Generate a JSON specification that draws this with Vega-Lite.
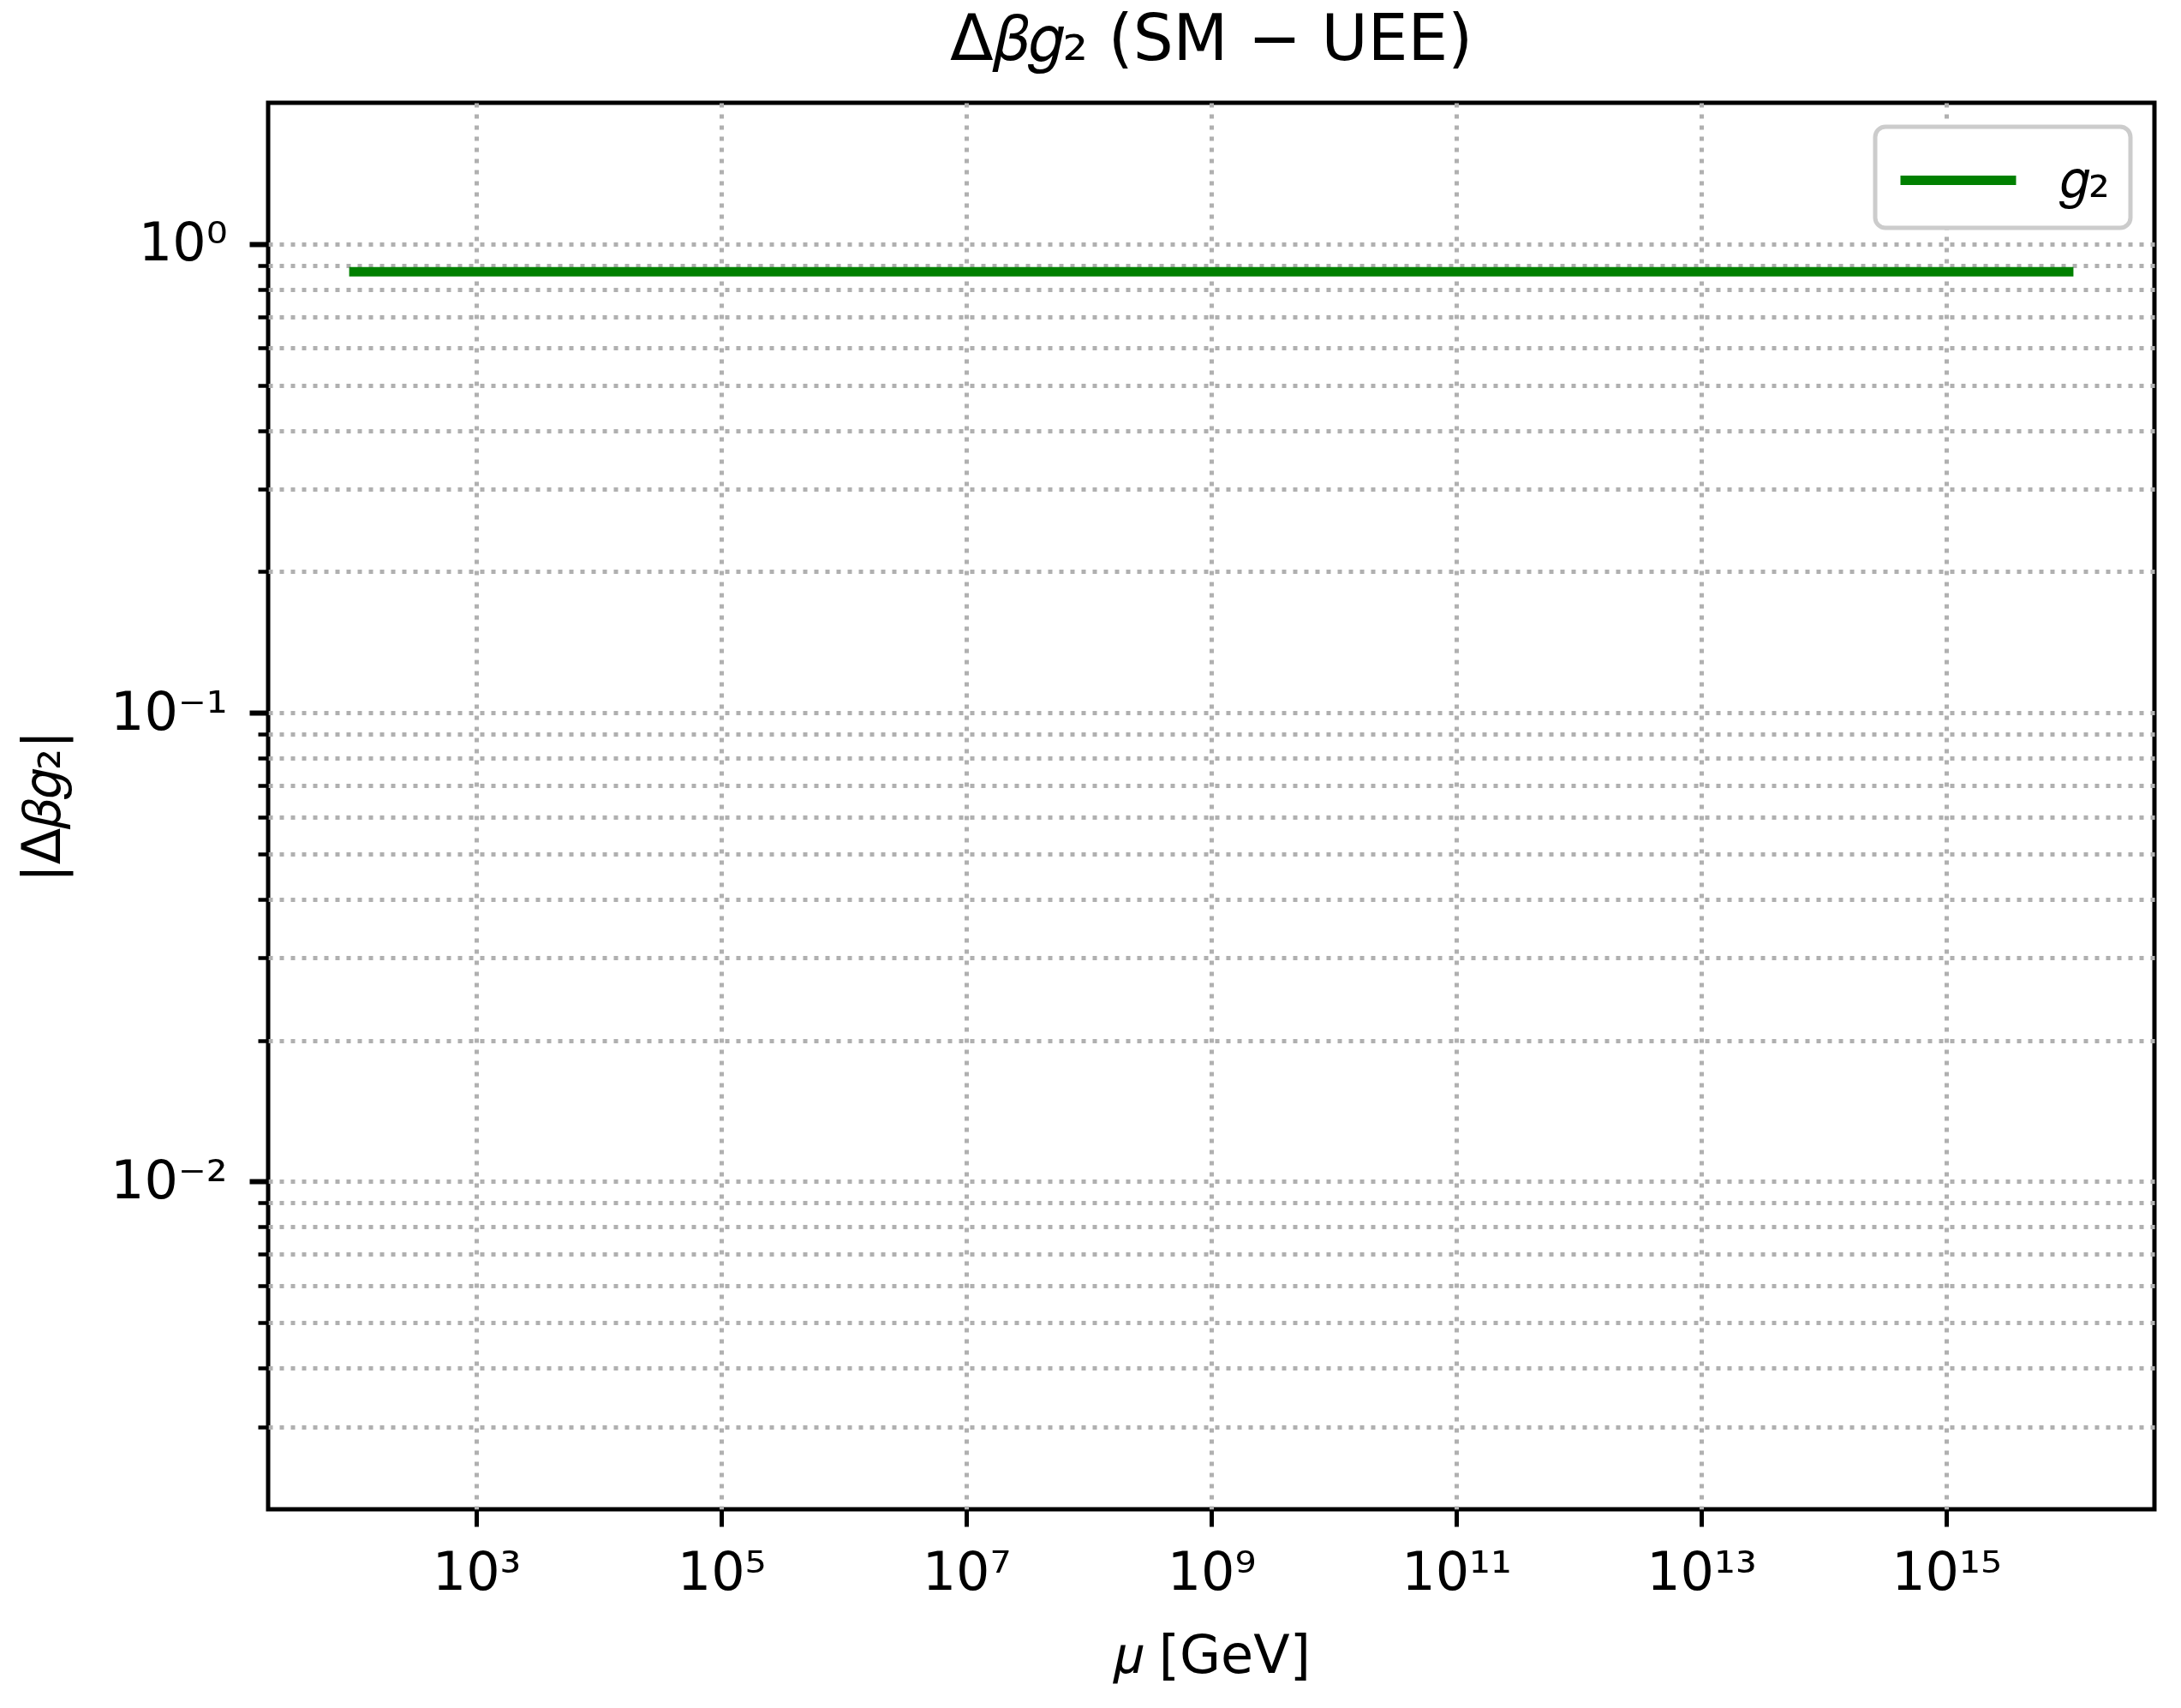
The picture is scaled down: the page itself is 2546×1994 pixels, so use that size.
{
  "$schema": "https://vega.github.io/schema/vega-lite/v6.json",
  "autosize": "none",
  "width": 2202,
  "height": 1642,
  "padding": {"left": 313, "top": 120, "right": 31, "bottom": 232},
  "background": "white",
  "data": {
    "values": [
      {"mu": 100, "dbeta": 0.872, "series": "𝑔₂"},
      {"mu": 1e16, "dbeta": 0.872, "series": "𝑔₂"}
    ]
  },
  "title": {
    "text": "Δ𝛽𝑔₂  (SM − UEE)",
    "font": "DejaVu Sans",
    "fontSize": 74,
    "fontWeight": "normal",
    "color": "black",
    "anchor": "middle",
    "baseline": "alphabetic",
    "offset": -24
  },
  "mark": {"type": "line", "strokeWidth": 11, "strokeCap": "square"},
  "encoding": {
    "x": {
      "field": "mu",
      "type": "quantitative",
      "scale": {"type": "log", "domain": [19.95, 5.01e16], "nice": false},
      "axis": {
        "title": "𝜇 [GeV]",
        "values": [1e3, 1e5, 1e7, 1e9, 1e11, 1e13, 1e15],
        "labelExpr": "['','','','10³','','10⁵','','10⁷','','10⁹','','10¹¹','','10¹³','','10¹⁵'][round(log(datum.value)/LN10)]",
        "labelFlush": false,
        "labelOverlap": false,
        "labelPadding": 24,
        "titlePadding": 36
      }
    },
    "y": {
      "field": "dbeta",
      "type": "quantitative",
      "scale": {"type": "log", "domain": [0.002, 2], "nice": false},
      "axis": {
        "title": "|Δ𝛽𝑔₂|",
        "values": [0.003, 0.004, 0.005, 0.006, 0.007, 0.008, 0.009, 0.01, 0.02, 0.03, 0.04, 0.05, 0.06, 0.07, 0.08, 0.09, 0.1, 0.2, 0.3, 0.4, 0.5, 0.6, 0.7, 0.8, 0.9, 1],
        "labelExpr": "datum.value == 0.01 ? '10⁻²' : datum.value == 0.1 ? '10⁻¹' : datum.value == 1 ? '10⁰' : ''",
        "labelFlush": false,
        "labelOverlap": false,
        "labelPadding": 26,
        "titlePadding": 46,
        "tickSize": {"condition": {"test": "datum.value == 0.01 || datum.value == 0.1 || datum.value == 1", "value": 22}, "value": 12},
        "tickWidth": {"condition": {"test": "datum.value == 0.01 || datum.value == 0.1 || datum.value == 1", "value": 6}, "value": 4.5}
      }
    },
    "color": {
      "field": "series",
      "type": "nominal",
      "scale": {"range": ["#008000"]},
      "legend": {
        "title": null,
        "orient": "top-right",
        "offset": 28,
        "padding": 24,
        "strokeColor": "#cccccc",
        "cornerRadius": 12,
        "fillColor": "white",
        "symbolType": "M-1,0H3.09",
        "symbolSize": 4356,
        "symbolStrokeWidth": 11,
        "labelFont": "DejaVu Sans",
        "labelFontSize": 62,
        "labelColor": "black",
        "labelOffset": 114
      }
    }
  },
  "config": {
    "view": {"stroke": "black", "strokeWidth": 5},
    "legend": {"strokeWidth": 5},
    "axis": {
      "domain": false,
      "grid": true,
      "gridColor": "#b0b0b0",
      "gridWidth": 5,
      "gridDash": [5, 8],
      "ticks": true,
      "tickColor": "black",
      "tickSize": 20,
      "tickWidth": 5,
      "labelFont": "DejaVu Sans",
      "labelFontSize": 62,
      "labelColor": "black",
      "titleFont": "DejaVu Sans",
      "titleFontSize": 62,
      "titleFontWeight": "normal",
      "titleColor": "black"
    }
  }
}
